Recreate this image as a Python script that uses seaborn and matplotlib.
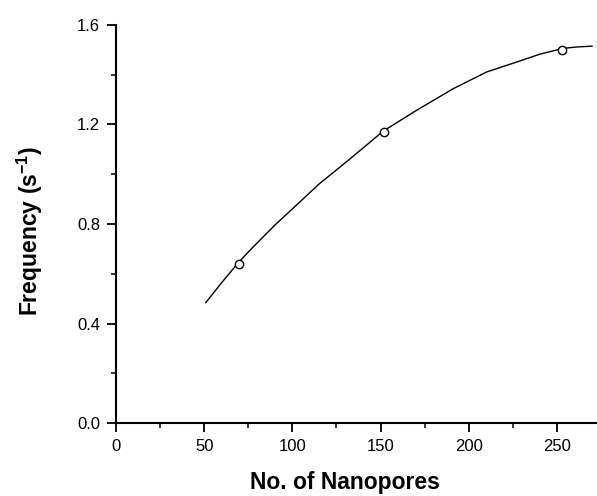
import matplotlib
matplotlib.use("Agg")
import matplotlib.pyplot as plt
import seaborn as sns
import pandas as pd
from matplotlib.ticker import MultipleLocator

# measured points
pores = [70, 152, 253]
freq = [0.64, 1.17, 1.50]

# fitted curve
fit_x = [50.8, 60, 69.2, 76, 90, 104.3, 115, 127, 140, 151.4, 170.4, 191.2, 210.1, 227.1, 240, 253.4, 262, 270]
fit_y = [0.483, 0.565, 0.643, 0.695, 0.795, 0.889, 0.96, 1.029, 1.105, 1.173, 1.257, 1.344, 1.411, 1.451, 1.482, 1.506, 1.512, 1.515]

sns.set_theme(style="ticks")
plt.rcParams['font.family'] = ['Liberation Sans', 'DejaVu Sans']

fig = plt.figure(figsize=(5.97, 4.96), dpi=100)
ax = fig.add_axes([116/597, 73/496, 1 - 116/597, (423-25)/496])

df_fit = pd.DataFrame({"x": fit_x, "y": fit_y})
df_pts = pd.DataFrame({"x": pores, "y": freq})
sns.lineplot(data=df_fit, x="x", y="y", ax=ax, color="black", linewidth=1.0, sort=False)
sns.scatterplot(data=df_pts, x="x", y="y", ax=ax, marker="o", s=36,
                facecolor="white", edgecolor="black", linewidth=1.0, zorder=3)

ax.set_xlim(0, 272.7)
ax.set_ylim(0, 1.6)
ax.xaxis.set_major_locator(MultipleLocator(50))
ax.xaxis.set_minor_locator(MultipleLocator(25))
ax.yaxis.set_major_locator(MultipleLocator(0.4))
ax.yaxis.set_minor_locator(MultipleLocator(0.2))
ax.set_yticklabels([f"{v:.1f}" for v in ax.get_yticks()])
ax.tick_params(which="major", length=6.5, width=1.3, direction="out", labelsize=12,
               colors="black", pad=5)
ax.tick_params(which="minor", length=3.5, width=1.3, direction="out")
for s in ["top", "right"]:
    ax.spines[s].set_visible(False)
for s in ["left", "bottom"]:
    ax.spines[s].set_linewidth(1.5)
    ax.spines[s].set_color("black")

ax.set_xlabel("No. of Nanopores", fontsize=16.5, fontweight="bold", color="black")
ax.set_ylabel("Frequency (s$^{\\mathregular{-1}}$)", fontsize=16.5, fontweight="bold", color="black")
# place label centres where the reference has them (pixel coords -> axes fraction)
ax.xaxis.set_label_coords((345 - 116) / (597 - 116), -(482 - 423) / (423 - 25), transform=ax.transAxes)
ax.yaxis.set_label_coords(-(116 - 30) / (597 - 116), (423 - 231) / (423 - 25), transform=ax.transAxes)
ax.xaxis.label.set_verticalalignment("center")
ax.yaxis.label.set_verticalalignment("center")

fig.savefig("out.png", dpi=100)
